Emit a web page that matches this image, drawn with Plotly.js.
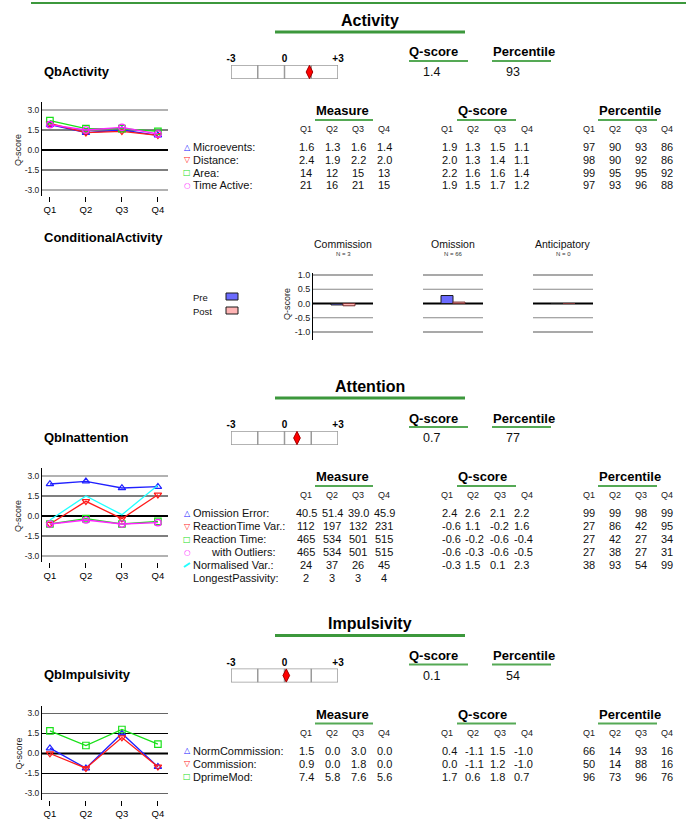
<!DOCTYPE html>
<html><head><meta charset="utf-8">
<script src="https://cdn.plot.ly/plotly-3.0.1.min.js"></script>
<style>body{margin:0;padding:0;background:#fff}#chart{width:695px;height:825px}</style>
</head><body><div id="chart"></div>
<script>
// ---------------- DATA ----------------
const quarters = ['Q1', 'Q2', 'Q3', 'Q4'];

const activityLabels = ['Microevents:', 'Distance:', 'Area:', 'Time Active:'];
const activityMeasure = [[1.6, 1.3, 1.6, 1.4], [2.4, 1.9, 2.2, 2.0], [14, 12, 15, 13], [21, 16, 21, 15]];
const activityMeasureDecimals = [1, 1, 0, 0];
const activityQ = [[1.9, 1.3, 1.5, 1.1], [2.0, 1.3, 1.4, 1.1], [2.2, 1.6, 1.6, 1.4], [1.9, 1.5, 1.7, 1.2]];
const activityPct = [[97, 90, 93, 86], [98, 90, 92, 86], [99, 95, 95, 92], [97, 93, 96, 88]];
const activityScore = 1.4;
const activityPercentile = 93;

const attentionLabels = ['Omission Error:', 'ReactionTime Var.:', 'Reaction Time:', 'with Outliers:', 'Normalised Var.:', 'LongestPassivity:'];
const attentionMeasure = [[40.5, 51.4, 39.0, 45.9], [112, 197, 132, 231], [465, 534, 501, 515], [465, 534, 501, 515], [24, 37, 26, 45], [2, 3, 3, 4]];
const attentionMeasureDecimals = [1, 0, 0, 0, 0, 0];
const attentionQ = [[2.4, 2.6, 2.1, 2.2], [-0.6, 1.1, -0.2, 1.6], [-0.6, -0.2, -0.6, -0.4], [-0.6, -0.3, -0.6, -0.5], [-0.3, 1.5, 0.1, 2.3]];
const attentionPct = [[99, 99, 98, 99], [27, 86, 42, 95], [27, 42, 27, 34], [27, 38, 27, 31], [38, 93, 54, 99]];
const attentionScore = 0.7;
const attentionPercentile = 77;

const impulsivityLabels = ['NormCommission:', 'Commission:', 'DprimeMod:'];
const impulsivityMeasure = [[1.5, 0.0, 3.0, 0.0], [0.9, 0.0, 1.8, 0.0], [7.4, 5.8, 7.6, 5.6]];
const impulsivityMeasureDecimals = [1, 1, 1];
const impulsivityQ = [[0.4, -1.1, 1.5, -1.0], [0.0, -1.1, 1.2, -1.0], [1.7, 0.6, 1.8, 0.7]];
const impulsivityPct = [[66, 14, 93, 16], [50, 14, 88, 16], [96, 73, 96, 76]];
const impulsivityScore = 0.1;
const impulsivityPercentile = 54;

const condGroups = ['Commission', 'Omission', 'Anticipatory'];
const condN = [3, 66, 0];
const condPre = [-0.05, 0.28, 0];
const condPost = [-0.08, 0.05, 0];

const lineTicks = [3, 1.5, 0, -1.5, -3];
const barTicks = [1, 0.5, 0, -0.5, -1];

// ---------------- STYLE / LAYOUT HELPERS ----------------
const F = 'Arial, "Liberation Sans", sans-serif';
const W = 695, H = 825;
const px = v => v / W;
const py = v => 1 - v / H;
const GREEN = '#3c983c';
const GREEN2 = '#55a955';
const seriesColors = ['#2020ff', '#ff1a1a', '#19e019', '#ff22ff', '#22ffff'];
const seriesSymbols = ['triangle-up-open', 'triangle-down-open', 'square-open', 'circle-open', null];
const legendGlyphs = ['\u25B3', '\u25BD', '\u25A1', '\u25CB', null];

const annotations = [];
const shapes = [];
const traces = [];
const layout = {
  width: W, height: H, margin: {l: 0, r: 0, t: 0, b: 0},
  paper_bgcolor: '#fff', plot_bgcolor: 'rgba(0,0,0,0)',
  showlegend: false, barmode: 'group', bargap: 0.6,
  font: {family: F, color: '#111'},
  annotations, shapes
};

function txt(x, y, text, o = {}) {
  annotations.push({
    xref: 'paper', yref: 'paper', x: px(x), y: py(y), text, showarrow: false,
    xanchor: o.anchor || 'center', yanchor: 'middle', borderpad: 0,
    font: {family: o.family || F, size: o.size || 11, color: o.color || '#111'},
    textangle: o.angle || 0
  });
}
function hline(x0, x1, y, color, width) {
  shapes.push({type: 'line', xref: 'paper', yref: 'paper', x0: px(x0), x1: px(x1), y0: py(y), y1: py(y), line: {color, width}});
}
const suf = n => (n === 1 ? '' : String(n));
const fmtTick = v => v.toFixed(1);

// ---------------- SECTIONS ----------------
const sections = [
  {title: 'Activity', label: 'QbActivity', off: 0, score: activityScore, pct: activityPercentile,
   labels: activityLabels, measure: activityMeasure, dec: activityMeasureDecimals, q: activityQ, p: activityPct, step: 12.8, n: 1, scaleN: 7},
  {title: 'Attention', label: 'QbInattention', off: 366, score: attentionScore, pct: attentionPercentile,
   labels: attentionLabels, measure: attentionMeasure, dec: attentionMeasureDecimals, q: attentionQ, p: attentionPct, step: 13, n: 2, scaleN: 8},
  {title: 'Impulsivity', label: 'QbImpulsivity', off: 603.5, score: impulsivityScore, pct: impulsivityPercentile,
   labels: impulsivityLabels, measure: impulsivityMeasure, dec: impulsivityMeasureDecimals, q: impulsivityQ, p: impulsivityPct, step: 13, n: 3, scaleN: 9}
];

const colM = [306, 332, 358, 384];
const colQ = [447, 473, 500, 527];
const colQval = [441, 464, 489, 513];
const colP = [589, 615, 641, 667];

hline(31, 686, 3, GREEN, 2);

sections.forEach(s => {
  const o = s.off;
  txt(370, 20 + o, '<b>' + s.title + '</b>', {size: 16, color: '#000'});
  hline(275, 465, 32 + o, GREEN, 3);
  txt(43, 71 + o, '<b>' + s.label + '</b>', {anchor: 'left', size: 13, color: '#000'});
  txt(408, 52 + o, '<b>Q-score</b>', {anchor: 'left', size: 13, color: '#000'});
  hline(409, 468, 61 + o, GREEN2, 2);
  txt(492, 52 + o, '<b>Percentile</b>', {anchor: 'left', size: 13, color: '#000'});
  hline(492, 551, 61 + o, GREEN2, 2);
  txt(431, 72 + o, s.score.toFixed(1), {size: 12.5});
  txt(513, 72 + o, String(s.pct), {size: 12.5});

  const sn = s.scaleN;
  layout['xaxis' + sn] = {
    domain: [px(231), px(338)], range: [-3, 3], side: 'top', anchor: 'y' + sn,
    tickvals: [-3, 0, 3], ticktext: ['<b>-3</b>', '<b>0</b>', '<b>+3</b>'], ticks: '',
    showgrid: false, zeroline: false, showline: false, tickfont: {size: 10, color: '#000'}, fixedrange: true
  };
  layout['yaxis' + sn] = {domain: [py(79 + o), py(65 + o)], range: [0, 1], visible: false, anchor: 'x' + sn, fixedrange: true};
  shapes.push({type: 'rect', xref: 'x' + sn, yref: 'y' + sn, x0: -3, x1: 3, y0: 0, y1: 1, layer: 'below', line: {color: '#9a9a9a', width: 1.5}});
  [-1.5, 0, 1.5].forEach(v => shapes.push({type: 'line', xref: 'x' + sn, yref: 'y' + sn, x0: v, x1: v, y0: 0, y1: 1, layer: 'below', line: {color: '#9a9a9a', width: 1.5}}));
  traces.push({type: 'scatter', mode: 'markers', x: [s.score], y: [0.5], xaxis: 'x' + sn, yaxis: 'y' + sn,
    marker: {symbol: 'diamond-tall', size: 9.5, color: '#ff0000', line: {color: '#a00000', width: 1}}, hoverinfo: 'skip'});

  [['Measure', 315, 373], ['Q-score', 457, 516], ['Percentile', 598, 657]].forEach(([t, x0, x1]) => {
    txt(x0, 111 + o, '<b>' + t + '</b>', {anchor: 'left', size: 13, color: '#000'});
    hline(x0, x1, 120 + o, GREEN2, 2);
  });
  [colM, colQ, colP].forEach(cols => cols.forEach((c, j) => txt(c, 129 + o, quarters[j], {size: 9, color: '#222'})));

  s.labels.forEach((lab, i) => {
    const y = 147 + o + i * s.step;
    if (legendGlyphs[i]) {
      txt(187, y, legendGlyphs[i], {size: i === 3 ? 7.5 : 8, color: seriesColors[i], family: '"DejaVu Sans"'});
    } else if (i === 4 && s.q.length === 5) {
      shapes.push({type: 'line', xref: 'paper', yref: 'paper', x0: px(184), x1: px(190), y0: py(y + 2), y1: py(y - 2), line: {color: seriesColors[4], width: 2}});
    }
    const indent = lab.startsWith('with') ? 210 : 192;
    txt(indent, y, lab, {anchor: 'left'});
    s.measure[i].forEach((v, j) => txt(colM[j], y, v.toFixed(s.dec[i])));
    if (s.q[i]) s.q[i].forEach((v, j) => txt(colQval[j], y, v.toFixed(1), {anchor: 'left'}));
    if (s.p[i]) s.p[i].forEach((v, j) => txt(colP[j], y, String(v)));
  });

  const n = s.n, xs = 'x' + suf(n), ys = 'y' + suf(n);
  layout['xaxis' + suf(n)] = {
    domain: [px(42), px(168)], type: 'category', categoryarray: quarters, range: [-0.22, 3.28], anchor: ys,
    ticks: 'outside', ticklen: 5, tickcolor: '#000', tickwidth: 1, showline: false, showgrid: false, zeroline: false,
    tickfont: {size: 9.5, color: '#000'}, fixedrange: true
  };
  layout['yaxis' + suf(n)] = {
    domain: [py(196 + o), py(102 + o)], range: [-3.45, 3.6], anchor: xs,
    tickvals: lineTicks, ticktext: lineTicks.map(fmtTick), ticks: '', showgrid: false, zeroline: false,
    showline: true, linecolor: '#000', linewidth: 1, tickfont: {size: 8.5, color: '#222'}, fixedrange: true
  };
  lineTicks.forEach(v => shapes.push({type: 'line', xref: xs + ' domain', yref: ys, x0: 0, x1: 1, y0: v, y1: v, layer: 'below',
    line: {color: Math.abs(v) === 3 ? '#666' : '#000', width: v === 0 ? 2 : 1.2}}));
  txt(18, 150 + o, 'Q-score', {angle: -90, size: 9, color: '#222'});
  s.q.forEach((row, i) => {
    const sym = seriesSymbols[i];
    traces.push({type: 'scatter', x: quarters, y: row, xaxis: xs, yaxis: ys,
      mode: sym ? 'lines+markers' : 'lines',
      line: {color: seriesColors[i], width: 1.3},
      marker: {symbol: sym || 'circle', size: 6.5, color: seriesColors[i], line: {width: 1.2, color: seriesColors[i]}},
      hoverinfo: 'skip'});
  });
});

// ---------------- CONDITIONAL ACTIVITY ----------------
txt(43, 237, '<b>ConditionalActivity</b>', {anchor: 'left', size: 13, color: '#000'});
txt(192, 297, 'Pre', {anchor: 'left', size: 9.5});
txt(192, 311, 'Post', {anchor: 'left', size: 9.5});
shapes.push({type: 'rect', xref: 'paper', yref: 'paper', x0: px(226), x1: px(238), y0: py(300), y1: py(293), fillcolor: '#6b6bff', line: {color: '#1a1a1a', width: 1}});
shapes.push({type: 'rect', xref: 'paper', yref: 'paper', x0: px(226), x1: px(238), y0: py(314), y1: py(307), fillcolor: '#ffb4b4', line: {color: '#1a1a1a', width: 1}});
txt(287, 304, 'Q-score', {angle: -90, size: 9, color: '#222'});

const condX = [[313, 373], [423, 483], [533, 593]];
condGroups.forEach((g, i) => {
  const n = 4 + i;
  const cx = (condX[i][0] + condX[i][1]) / 2;
  txt(cx, 244, g, {size: 10.5, color: '#111'});
  txt(cx, 254, 'N = ' + condN[i], {size: 6, color: '#333'});
  layout['xaxis' + n] = {domain: [px(condX[i][0]), px(condX[i][1])], type: 'category', range: [-0.5, 0.5],
    showticklabels: false, ticks: '', showline: false, showgrid: false, zeroline: false, anchor: 'y' + n, fixedrange: true};
  layout['yaxis' + n] = {domain: [py(340), py(273)], range: [-1.28, 1.07], anchor: 'x' + n,
    tickvals: barTicks, ticktext: barTicks.map(fmtTick), ticks: '', showticklabels: i === 0,
    showgrid: false, zeroline: false, showline: i === 0, linecolor: '#000', linewidth: 1,
    tickfont: {size: 9, color: '#222'}, fixedrange: true};
  barTicks.forEach(v => shapes.push({type: 'line', xref: 'x' + n + ' domain', yref: 'y' + n, x0: 0, x1: 1, y0: v, y1: v, layer: 'below',
    line: {color: v === 0 ? '#000' : (Math.abs(v) === 1 ? '#555' : '#888'), width: v === 0 ? 2 : 1.2}}));
  traces.push({type: 'bar', x: [g], y: [condPre[i]], xaxis: 'x' + n, yaxis: 'y' + n,
    marker: {color: '#6b6bff', line: {color: '#1a1a1a', width: 1}}, hoverinfo: 'skip'});
  traces.push({type: 'bar', x: [g], y: [condPost[i]], xaxis: 'x' + n, yaxis: 'y' + n,
    marker: {color: '#ffb4b4', line: {color: '#7a3030', width: 1}}, hoverinfo: 'skip'});
});

Plotly.newPlot('chart', traces, layout, {staticPlot: true, displayModeBar: false});
</script>
</body></html>
